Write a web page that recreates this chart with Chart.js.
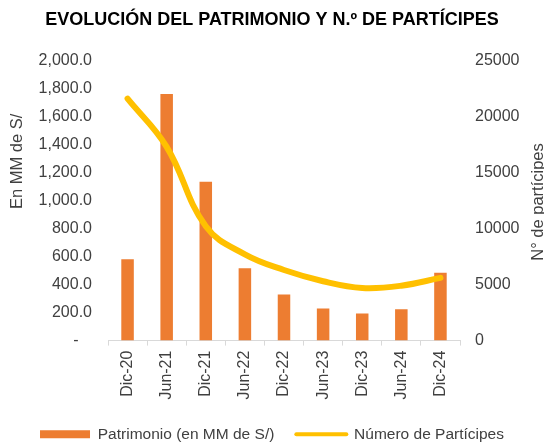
<!DOCTYPE html>
<html>
<head>
<meta charset="utf-8">
<script src="https://cdn.jsdelivr.net/npm/chart.js@4"></script>
<style>
  html, body { margin: 0; padding: 0; background: #fff; }
  #evolucion-chart { display: block; }
</style>
</head>
<body>
<canvas id="evolucion-chart" width="544" height="443"></canvas>
<script>
const periodos = ['Dic-20', 'Jun-21', 'Dic-21', 'Jun-22', 'Dic-22', 'Jun-23', 'Dic-23', 'Jun-24', 'Dic-24'];
const patrimonio = [581, 1761, 1134, 517, 329, 230, 194, 223, 484];
const participes = [21600, 17300, 10200, 7700, 6300, 5300, 4700, 4900, 5600];
const ticksPatrimonio = [0, 200, 400, 600, 800, 1000, 1200, 1400, 1600, 1800, 2000];
const ticksParticipes = [0, 5000, 10000, 15000, 20000, 25000];
const tituloIzq = 'En MM de S/';
const tituloDer = 'N° de partícipes';

const fuente = 'Arial, "Liberation Sans", sans-serif';
const gris = '#404040';

// titulos de ejes: el derecho se lee de abajo hacia arriba, como el izquierdo
const titulosEjes = {
  id: 'titulosEjes',
  afterDraw(chart) {
    const { ctx, chartArea, scales } = chart;
    const alto = chartArea.bottom - chartArea.top;
    ctx.save();
    ctx.fillStyle = gris;
    ctx.font = '16.5px ' + fuente;
    ctx.textAlign = 'center';
    ctx.textBaseline = 'middle';

    ctx.save();
    ctx.translate(scales.y.left + 17, chartArea.top + alto * 0.36);
    ctx.rotate(-Math.PI / 2);
    ctx.fillText(tituloIzq, 0, 0);
    ctx.restore();

    ctx.save();
    ctx.translate(scales.y1.right - 6, chartArea.top + alto * 0.505);
    ctx.rotate(-Math.PI / 2);
    ctx.fillText(tituloDer, 0, 0);
    ctx.restore();

    ctx.restore();
  }
};

function drawChart() {
  const ctx = document.getElementById('evolucion-chart').getContext('2d');
  new Chart(ctx, {
    data: {
      labels: periodos,
      datasets: [
        {
          type: 'bar',
          label: 'Patrimonio (en MM de S/)',
          data: patrimonio,
          yAxisID: 'y',
          backgroundColor: '#ED7D31',
          borderWidth: 0,
          categoryPercentage: 1,
          barPercentage: 0.32,
          order: 1
        },
        {
          type: 'line',
          label: 'Número de Partícipes',
          data: participes,
          yAxisID: 'y1',
          borderColor: '#FFC000',
          backgroundColor: '#FFC000',
          borderWidth: 6,
          borderCapStyle: 'round',
          tension: 0.4,
          pointRadius: 0,
          order: 0
        }
      ]
    },
    plugins: [titulosEjes],
    options: {
      responsive: false,
      animation: false,
      layout: { padding: { left: 0, right: 0, top: 0, bottom: -9 } },
      plugins: {
        title: {
          display: true,
          text: 'EVOLUCIÓN DEL PATRIMONIO Y N.º DE PARTÍCIPES',
          color: '#000',
          font: { family: fuente, size: 18, weight: 'bold' },
          padding: { top: 9, bottom: 30 }
        },
        legend: {
          position: 'bottom',
          labels: {
            color: gris,
            font: { family: fuente, size: 15.5 },
            usePointStyle: true,
            pointStyleWidth: 50,
            boxHeight: 8,
            padding: 22,
            generateLabels: function (chart) {
              const items = Chart.defaults.plugins.legend.labels.generateLabels(chart);
              items.sort((a, b) => a.datasetIndex - b.datasetIndex);
              items.forEach(item => {
                if (item.datasetIndex === 0) {
                  item.pointStyle = 'rect';
                  item.lineWidth = 0;
                } else {
                  item.pointStyle = 'line';
                  item.lineWidth = 4;
                  item.lineCap = 'round';
                }
              });
              return items;
            }
          }
        },
        tooltip: { enabled: false }
      },
      scales: {
        x: {
          grid: {
            display: true,
            drawOnChartArea: false,
            drawTicks: true,
            tickLength: 5,
            color: '#D9D9D9'
          },
          border: { display: true, color: '#D9D9D9' },
          ticks: {
            color: gris,
            font: { family: fuente, size: 16 },
            maxRotation: 90,
            minRotation: 90,
            padding: 5
          }
        },
        y: {
          position: 'left',
          min: 0,
          max: 2000,
          afterBuildTicks: function (scale) {
            scale.ticks = ticksPatrimonio.map(v => ({ value: v }));
          },
          afterFit: function (scale) { scale.width = 108; },
          grid: { display: false, drawTicks: false },
          border: { display: false },
          ticks: {
            color: gris,
            font: { family: fuente, size: 16 },
            padding: 16,
            callback: function (v) {
              if (v === 0) return '-   ';
              return v.toLocaleString('en-US', { minimumFractionDigits: 1, maximumFractionDigits: 1 });
            }
          }
        },
        y1: {
          position: 'right',
          min: 0,
          max: 25000,
          afterBuildTicks: function (scale) {
            scale.ticks = ticksParticipes.map(v => ({ value: v }));
          },
          afterFit: function (scale) { scale.width = 84; },
          grid: { display: false, drawTicks: false },
          border: { display: false },
          ticks: {
            color: gris,
            font: { family: fuente, size: 16 },
            padding: 15,
            callback: function (v) { return String(v); }
          }
        }
      }
    }
  });
}

document.addEventListener('DOMContentLoaded', function () {
  drawChart();
});
</script>
</body>
</html>
